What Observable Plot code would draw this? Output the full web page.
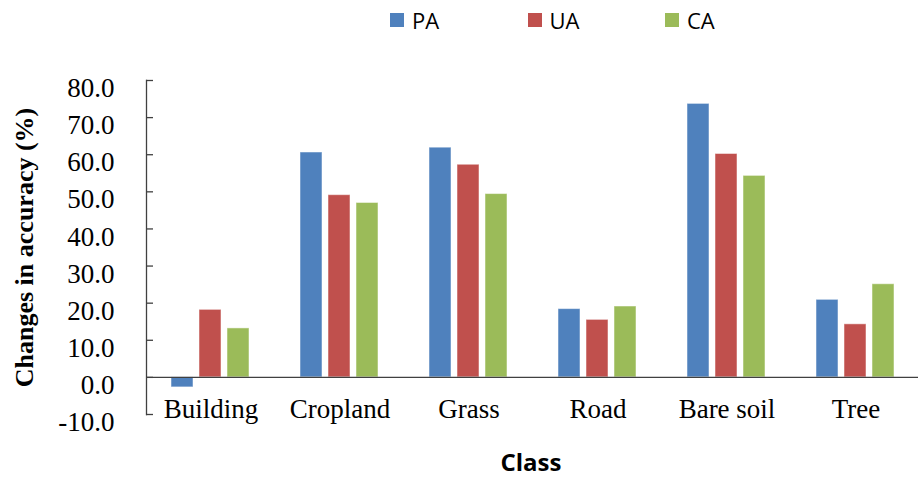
<!DOCTYPE html>
<html>
<head>
<meta charset="utf-8">
<script src="https://cdn.jsdelivr.net/npm/d3@7"></script>
<script src="https://cdn.jsdelivr.net/npm/@observablehq/plot@0.6"></script>
<style>
  html, body { margin: 0; padding: 0; background: #fff; }
  #wrap { width: 918px; height: 478px; position: relative; overflow: hidden; }
  .legend { height: 40px; display: flex; align-items: center; padding-left: 390px; box-sizing: border-box;
            font-family: "Open Sans", sans-serif; font-size: 22px; color: #000; }
  .legend .item { width: 137.5px; display: flex; align-items: center; }
  .legend .sw { width: 14px; height: 14px; margin-right: 8px; }
  .xtitle { height: 38px; line-height: 44px; text-align: center; padding-left: 144px; box-sizing: border-box;
            font-family: "Open Sans", sans-serif; font-weight: bold; font-size: 24px; color: #000; }
  #chart svg g[aria-label="y-axis label"],
  #chart svg g[aria-label="y-axis label"] text {
    font-family: "Liberation Serif", "Times New Roman", serif;
    font-weight: bold; font-size: 26px;
  }
</style>
</head>
<body>
<div id="wrap">
  <div class="legend" id="legend"></div>
  <div id="chart"></div>
  <div class="xtitle">Class</div>
</div>
<script>
// Land-cover classes and the three accuracy measures
const classes = ["Building", "Cropland", "Grass", "Road", "Bare soil", "Tree"];
const series = ["PA", "UA", "CA"];

// Change in each accuracy measure (%) per class
const paValues = [-2.7, 60.6, 61.9, 18.4, 73.7, 20.9];
const uaValues = [18.2, 49.1, 57.3, 15.5, 60.2, 14.3];
const caValues = [13.2, 47.0, 49.4, 19.1, 54.3, 25.1];

const seriesColors = ["#4F81BD", "#C0504D", "#9BBB59"];
const yTicks = [-10, 0, 10, 20, 30, 40, 50, 60, 70, 80];

const valuesBySeries = [paValues, uaValues, caValues];
const rows = classes.flatMap((cls, i) =>
  series.map((s, j) => ({cls, series: s, value: valuesBySeries[j][i]}))
);

// Legend row
const legend = document.getElementById("legend");
series.forEach((s, j) => {
  const item = document.createElement("div");
  item.className = "item";
  const sw = document.createElement("span");
  sw.className = "sw";
  sw.style.background = seriesColors[j];
  const label = document.createElement("span");
  label.textContent = s;
  item.append(sw, label);
  legend.append(item);
});

const axisColor = "#404040";
const serif = "'Liberation Serif', 'Times New Roman', serif";

const chart = Plot.plot({
  width: 918,
  height: 400,
  marginTop: 40,
  marginBottom: 26,
  marginLeft: 144,
  marginRight: -4,
  style: {fontFamily: serif, fontSize: "27px", color: "#000", background: "#fff"},
  fx: {domain: classes, padding: 0, label: null},
  x: {domain: series, paddingInner: 0.21, paddingOuter: 0.84, axis: null},
  y: {domain: [-10, 80]},
  color: {domain: series, range: seriesColors},
  marks: [
    Plot.barY(rows, {fx: "cls", x: "series", y: "value", fill: "series", stroke: "#ffffff", strokeOpacity: 0.5, strokeWidth: 1}),
    Plot.ruleY([0], {stroke: axisColor, strokeWidth: 1.3}),
    Plot.frame({anchor: "left", facetAnchor: "left", stroke: axisColor, strokeWidth: 1.3}),
    // inward tick marks, plus the rotated axis title
    Plot.axisY(yTicks, {
      tickSize: 7, dx: 7, stroke: axisColor, strokeWidth: 1.3,
      tickFormat: () => "",
      fontFamily: serif, fontWeight: "bold", fontSize: 26,
      label: "Changes in accuracy (%)", labelAnchor: "center", labelArrow: "none", labelOffset: 132
    }),
    // tick labels
    Plot.axisY(yTicks, {tickSize: 0, tickPadding: 32, dy: 8, tickFormat: d => d.toFixed(1), label: null, fontFamily: serif, fontSize: 27}),
    Plot.axisFx({anchor: "bottom", tickSize: 0, tickPadding: 0, dy: -16, label: null, fontFamily: serif, fontSize: 27})
  ]
});

document.getElementById("chart").append(chart);
</script>
</body>
</html>
